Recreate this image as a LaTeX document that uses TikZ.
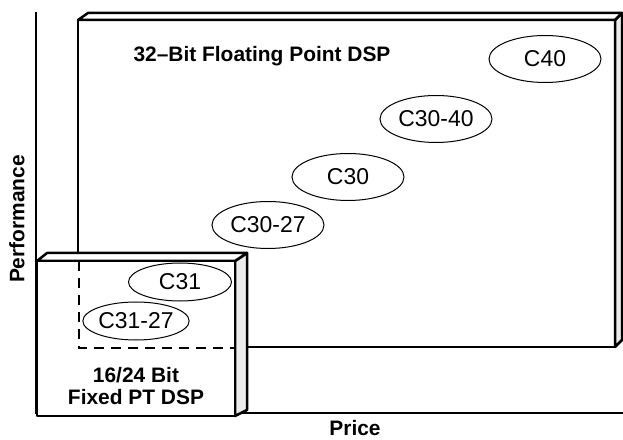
\documentclass[tikz,border=0pt]{standalone}
\usepackage{fontspec}
\setmainfont{Liberation Sans}
\usetikzlibrary{shapes.geometric}
\definecolor{sideface}{gray}{0.92}

\begin{document}
\begin{tikzpicture}[
x=1bp, y=-1bp,
every node/.style={font=\fontsize{21}{23}\selectfont},
chip/.style={draw, ellipse, fill=white, line width=1bp, minimum width=112bp, minimum height=47bp, inner sep=0pt, font=\fontsize{23}{25}\selectfont},
smallchip/.style={chip, minimum width=103bp, minimum height=38bp},
boxedge/.style={draw, line width=2.5bp, line join=round},
heading/.style={font=\fontsize{21}{23}\selectfont\bfseries},
]
\useasboundingbox (0,0) rectangle (623,440);

% Axes
\coordinate (top) at (36,12);
\coordinate (orig) at (36,413);
\coordinate (right) at (623,413);
\draw[line width=1.5bp] (top) -- (orig) -- (right);

% 32-bit box
\draw[boxedge, fill=sideface] (615,20) -- (622,13) -- (622,340) -- (615,347) -- cycle;
\draw[boxedge, fill=white] (78,20) -- (88,13) -- (622,13) -- (615,20) -- cycle;
\draw[boxedge] (78,20) rectangle (615,347);

% 16/24 bit box
\draw[boxedge, fill=sideface] (235,261) -- (247,253) -- (247,410) -- (235,416) -- cycle;
\draw[boxedge, fill=white] (37,261) -- (47,253) -- (247,253) -- (235,261) -- cycle;
\draw[boxedge, fill=white] (37,261) rectangle (235,416);
% hidden edges
\draw[line width=2bp, dash pattern=on 10bp off 7bp] (79,261) -- (79,348) -- (235,348);

% Labels
\node[heading] (fp) at (262,56) {32–Bit Floating Point DSP};
\node[heading, align=center] (fx) at (136,386) {16/24 Bit\\Fixed PT DSP};
\node[heading] (price) at (355,428) {Price};
\node[heading, rotate=90] (perf) at (17,219) {Performance};

% Devices
\node[chip] (c40) at (545,59) {C40};
\node[chip] (c3040) at (436,119) {C30-40};
\node[chip] (c30) at (348,177) {C30};
\node[chip] (c3027) at (268,225) {C30-27};
\node[smallchip] (c31) at (180,282) {C31};
\node[smallchip] (c3127) at (136,321) {C31-27};

\end{tikzpicture}
\end{document}
